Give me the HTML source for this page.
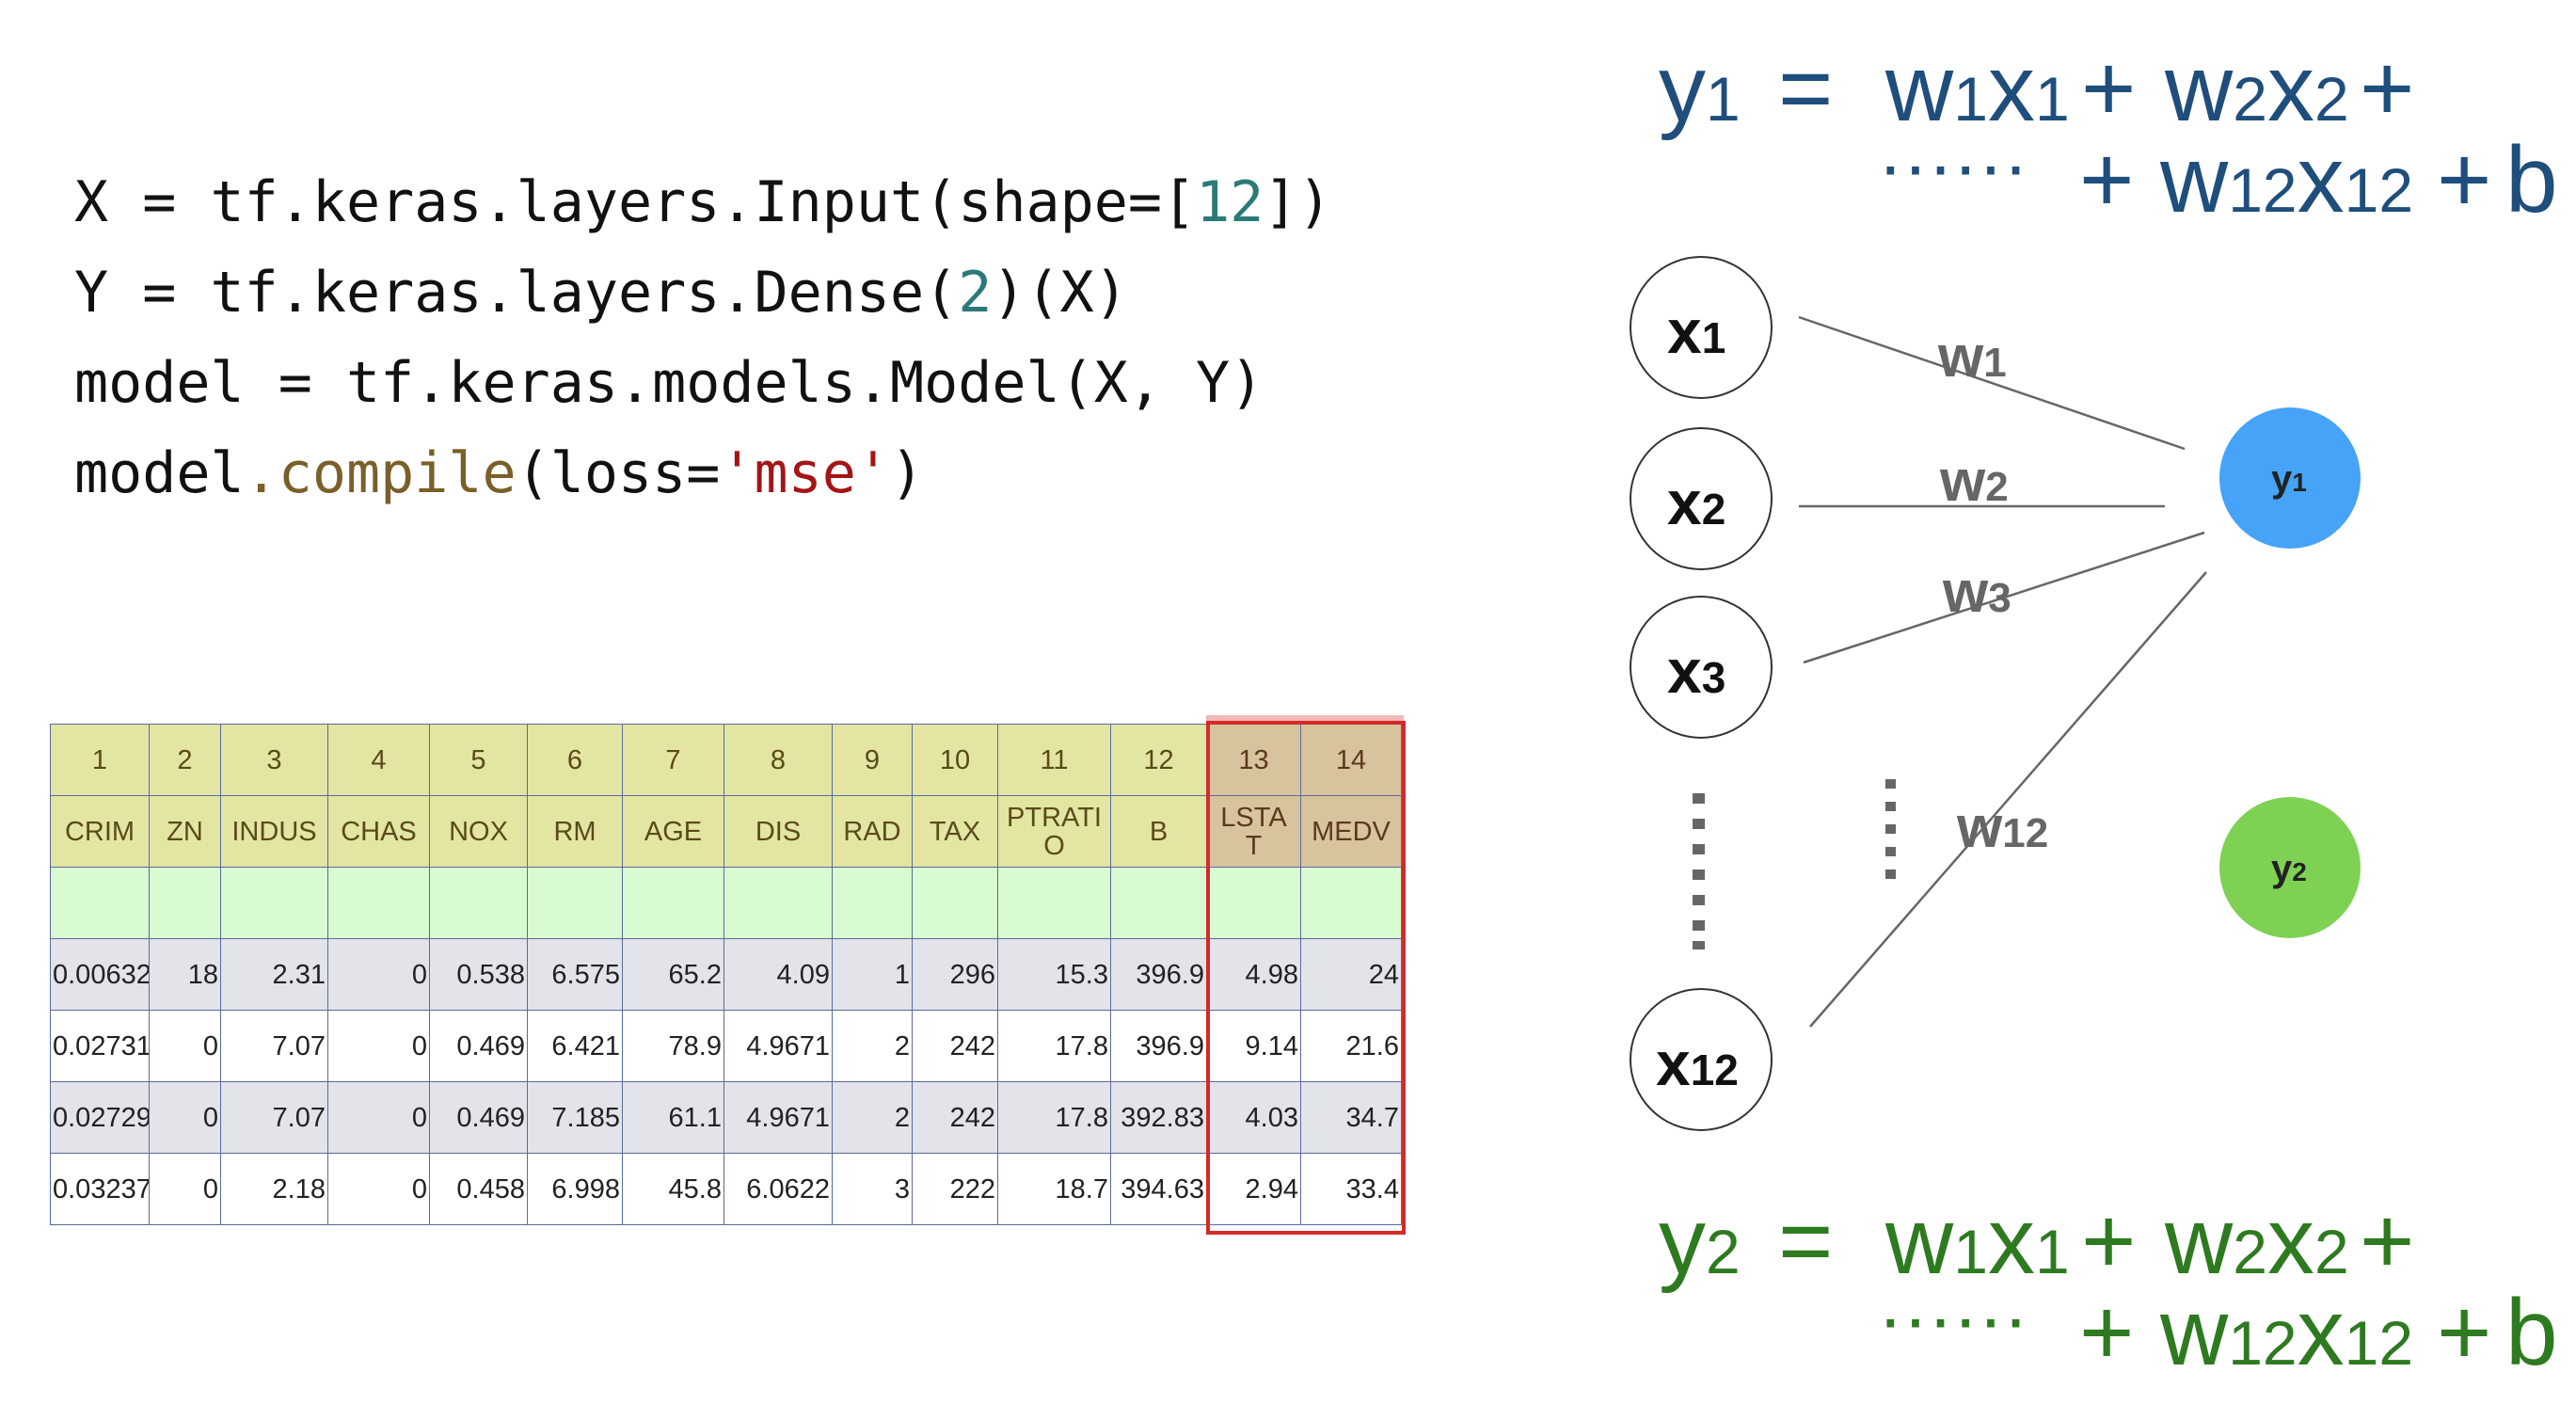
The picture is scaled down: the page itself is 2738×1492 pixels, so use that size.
<!DOCTYPE html>
<html><head><meta charset="utf-8"><style>
html,body{margin:0;padding:0;background:#fff;}
#root{position:relative;width:2738px;height:1492px;overflow:hidden;background:#fff;}
table{position:absolute;left:53px;top:769px;border-collapse:collapse;table-layout:fixed;font-family:"Liberation Sans",sans-serif;font-size:29px;}
td{border:1.5px solid #5a6a9a;height:75px;padding:0 2px;overflow:hidden;white-space:nowrap;line-height:30px;}
tr.h td{background:#e3e5a2;color:#5a4a1a;text-align:center;}
tr.h td.r{background:#d8c49c;color:#5a3a1a;}
tr.g td{background:#d9fbd2;}
tr.d1 td{background:#e3e3ea;text-align:right;color:#222;}
tr.d2 td{background:#fff;text-align:right;color:#222;}
</style></head><body><div id="root">
<svg width="2738" height="1492" style="position:absolute;left:0;top:0">
<g font-family="DejaVu Sans Mono, Liberation Mono, monospace" font-size="60" fill="#111">
<text x="79" y="235">X = tf.keras.layers.Input(shape=[<tspan fill="#2b7a78">12</tspan>])</text>
<text x="79" y="331">Y = tf.keras.layers.Dense(<tspan fill="#2b7a78">2</tspan>)(X)</text>
<text x="79" y="427">model = tf.keras.models.Model(X, Y)</text>
<text x="79" y="523">model<tspan fill="#7a5f2a">.compile</tspan>(loss=<tspan fill="#a31515">'mse'</tspan>)</text>
</g>
<g font-family="Liberation Sans, sans-serif" font-size="100" fill="#1f4e7c">
<text x="1763" y="128">y<tspan font-size="66">1</tspan></text>
<text x="1890" y="128">=</text>
<text x="2004" y="128">w<tspan font-size="66">1</tspan>x<tspan font-size="66">1</tspan></text>
<text x="2212" y="128">+</text>
<text x="2301" y="128">w<tspan font-size="66">2</tspan>x<tspan font-size="66">2</tspan></text>
<text x="2508" y="128">+</text>
<text x="1996" y="203" font-size="80">······</text>
<text x="2210" y="225">+</text>
<text x="2296" y="225">w<tspan font-size="66">12</tspan>x<tspan font-size="66">12</tspan></text>
<text x="2590" y="225">+</text>
<text x="2663" y="225">b</text>
</g>
<g font-family="Liberation Sans, sans-serif" font-size="100" fill="#2e7a20">
<text x="1763" y="1353">y<tspan font-size="66">2</tspan></text>
<text x="1890" y="1353">=</text>
<text x="2004" y="1353">w<tspan font-size="66">1</tspan>x<tspan font-size="66">1</tspan></text>
<text x="2212" y="1353">+</text>
<text x="2301" y="1353">w<tspan font-size="66">2</tspan>x<tspan font-size="66">2</tspan></text>
<text x="2508" y="1353">+</text>
<text x="1996" y="1428" font-size="80">······</text>
<text x="2210" y="1450">+</text>
<text x="2296" y="1450">w<tspan font-size="66">12</tspan>x<tspan font-size="66">12</tspan></text>
<text x="2590" y="1450">+</text>
<text x="2663" y="1450">b</text>
</g>
<g stroke="#666" stroke-width="2.5">
<line x1="1912" y1="337" x2="2322" y2="477"/>
<line x1="1912" y1="538" x2="2301" y2="538"/>
<line x1="1917" y1="704" x2="2343" y2="566"/>
<line x1="1924" y1="1091" x2="2345" y2="608"/>
</g>
<g font-family="Liberation Sans, sans-serif" font-weight="bold" font-size="62" fill="#666">
<text x="2060" y="400">w<tspan font-size="44">1</tspan></text>
<text x="2062" y="532">w<tspan font-size="44">2</tspan></text>
<text x="2065" y="650">w<tspan font-size="44">3</tspan></text>
<text x="2080" y="900">w<tspan font-size="44">12</tspan></text>
</g>
<g fill="#666">
<rect x="1799" y="843" width="13" height="11"/><rect x="1799" y="870" width="13" height="11"/><rect x="1799" y="897" width="13" height="11"/><rect x="1799" y="924" width="13" height="11"/><rect x="1799" y="951" width="13" height="11"/><rect x="1799" y="978" width="13" height="11"/><rect x="1799" y="1000" width="13" height="9"/>
<rect x="2004" y="828" width="11" height="10"/><rect x="2004" y="852" width="11" height="10"/><rect x="2004" y="876" width="11" height="10"/><rect x="2004" y="900" width="11" height="10"/><rect x="2004" y="924" width="11" height="10"/>
</g>
<g fill="#fff" stroke="#333" stroke-width="2">
<ellipse cx="1808" cy="348" rx="75" ry="75"/>
<ellipse cx="1808" cy="530" rx="75" ry="75"/>
<ellipse cx="1808" cy="709" rx="75" ry="75"/>
<ellipse cx="1808" cy="1126" rx="75" ry="75"/>
</g>
<ellipse cx="2434" cy="508" rx="75" ry="75" fill="#46a3f7"/>
<ellipse cx="2434" cy="922" rx="75" ry="75" fill="#7fd154"/>
<g font-family="Liberation Sans, sans-serif" font-weight="bold" font-size="66" fill="#111">
<text x="1772" y="375">x<tspan font-size="46">1</tspan></text>
<text x="1772" y="557">x<tspan font-size="46">2</tspan></text>
<text x="1772" y="736">x<tspan font-size="46">3</tspan></text>
<text x="1760" y="1153">x<tspan font-size="46">12</tspan></text>
</g>
<g font-family="Liberation Sans, sans-serif" font-weight="bold" font-size="40" fill="#222">
<text x="2414" y="522">y<tspan font-size="28">1</tspan></text>
<text x="2414" y="936">y<tspan font-size="28">2</tspan></text>
</g>
</svg>
<table style="width:1436px">
<colgroup><col style="width:105px"><col style="width:76px"><col style="width:114px"><col style="width:108px"><col style="width:104px"><col style="width:101px"><col style="width:108px"><col style="width:115px"><col style="width:85px"><col style="width:91px"><col style="width:120px"><col style="width:102px"><col style="width:100px"><col style="width:107px"></colgroup>
<tr class="h"><td>1</td><td>2</td><td>3</td><td>4</td><td>5</td><td>6</td><td>7</td><td>8</td><td>9</td><td>10</td><td>11</td><td>12</td><td class="r">13</td><td class="r">14</td></tr>
<tr class="h"><td>CRIM</td><td>ZN</td><td>INDUS</td><td>CHAS</td><td>NOX</td><td>RM</td><td>AGE</td><td>DIS</td><td>RAD</td><td>TAX</td><td style="white-space:normal">PTRATI<br>O</td><td>B</td><td class="r" style="white-space:normal">LSTA<br>T</td><td class="r">MEDV</td></tr>
<tr class="g"><td></td><td></td><td></td><td></td><td></td><td></td><td></td><td></td><td></td><td></td><td></td><td></td><td></td><td></td></tr>
<tr class="d1"><td style="text-align:left">0.00632</td><td>18</td><td>2.31</td><td>0</td><td>0.538</td><td>6.575</td><td>65.2</td><td>4.09</td><td>1</td><td>296</td><td>15.3</td><td>396.9</td><td>4.98</td><td>24</td></tr>
<tr class="d2"><td style="text-align:left">0.02731</td><td>0</td><td>7.07</td><td>0</td><td>0.469</td><td>6.421</td><td>78.9</td><td>4.9671</td><td>2</td><td>242</td><td>17.8</td><td>396.9</td><td>9.14</td><td>21.6</td></tr>
<tr class="d1"><td style="text-align:left">0.02729</td><td>0</td><td>7.07</td><td>0</td><td>0.469</td><td>7.185</td><td>61.1</td><td>4.9671</td><td>2</td><td>242</td><td>17.8</td><td>392.83</td><td>4.03</td><td>34.7</td></tr>
<tr class="d2"><td style="text-align:left">0.03237</td><td>0</td><td>2.18</td><td>0</td><td>0.458</td><td>6.998</td><td>45.8</td><td>6.0622</td><td>3</td><td>222</td><td>18.7</td><td>394.63</td><td>2.94</td><td>33.4</td></tr>
</table>
<div style="position:absolute;left:1282px;top:760px;width:210px;height:8px;background:#f2b8b8"></div>
<div style="position:absolute;left:1282px;top:766px;width:204px;height:538px;border:4px solid #d42a2a"></div>
</div></body></html>
